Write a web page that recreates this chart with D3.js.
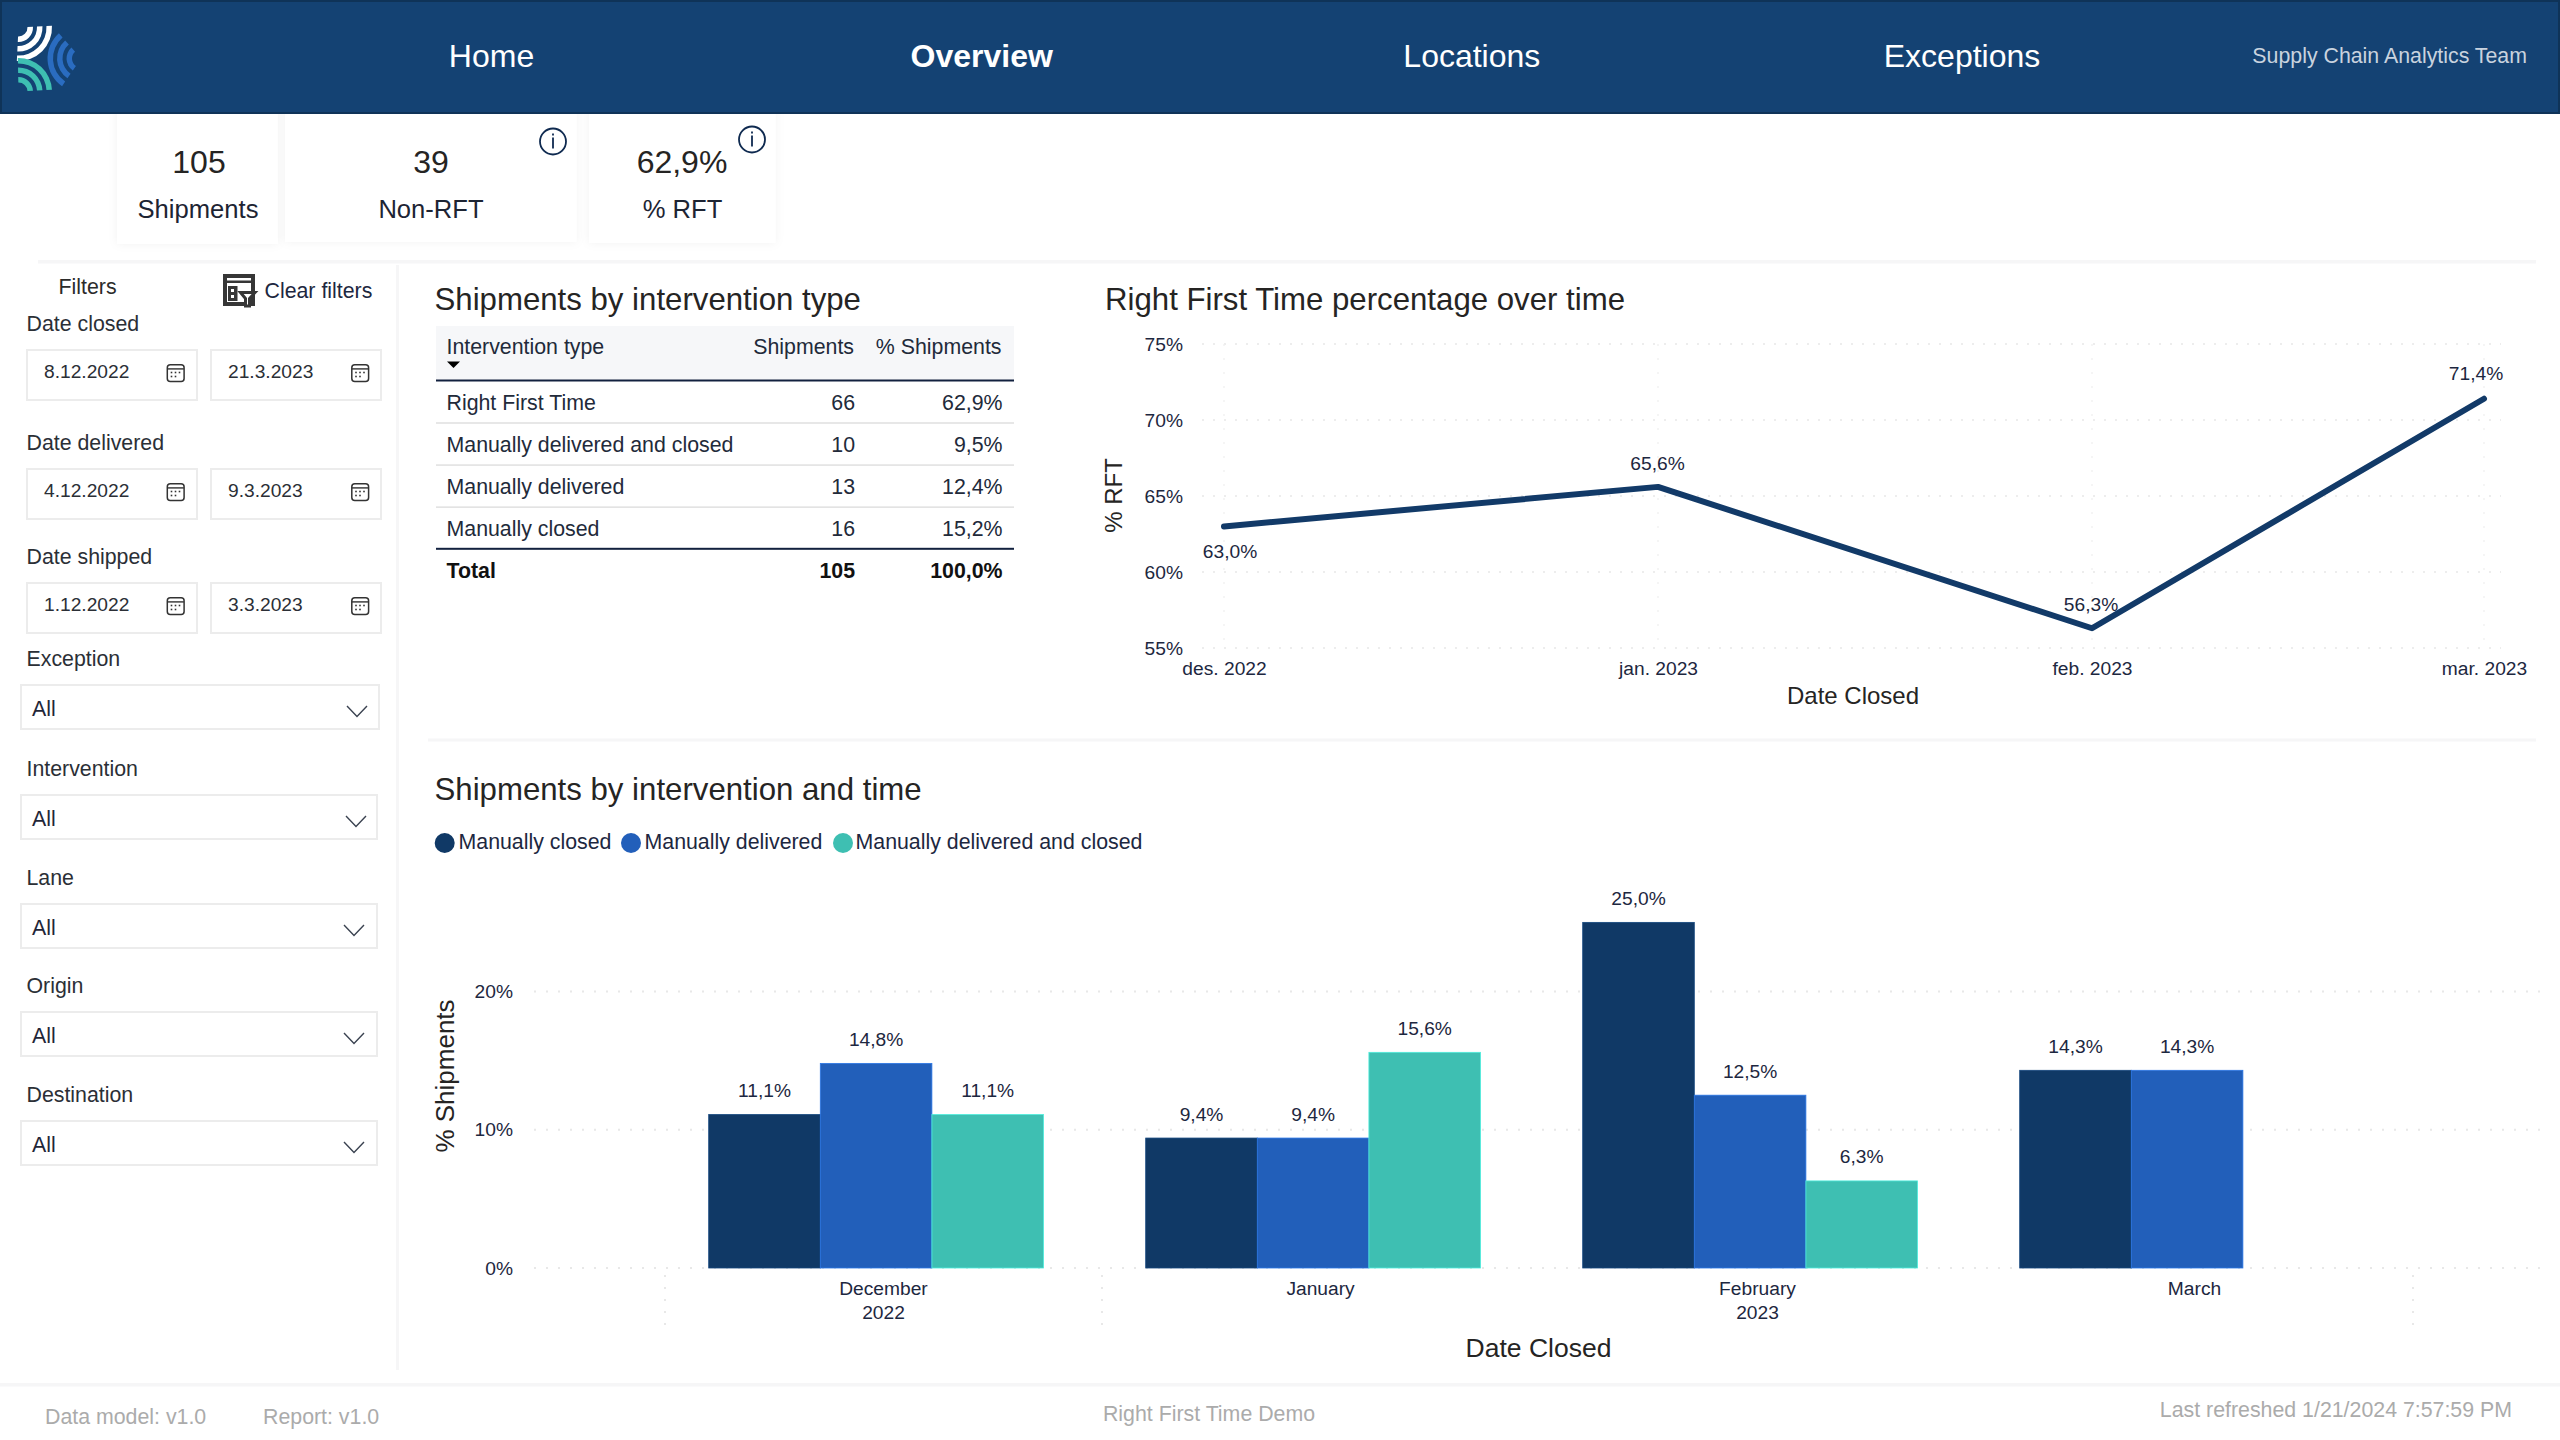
<!DOCTYPE html>
<html><head><meta charset="utf-8">
<style>html,body{margin:0;padding:0;background:#fff}svg{display:block}text{font-family:"Liberation Sans",Arial,sans-serif}</style>
<script src="https://cdnjs.cloudflare.com/ajax/libs/d3/7.8.5/d3.min.js"></script>
</head><body><svg id="c" width="2560" height="1440"></svg>
<script>
// ---------- data ----------
const navItems = ["Home","Overview","Locations","Exceptions"];
const teamLabel = "Supply Chain Analytics Team";
const cardValues = ["105","39","62,9%"];
const cardLabels = ["Shipments","Non-RFT","% RFT"];
const dateFilterLabels = ["Date closed","Date delivered","Date shipped"];
const dateFilterFrom = ["8.12.2022","4.12.2022","1.12.2022"];
const dateFilterTo = ["21.3.2023","9.3.2023","3.3.2023"];
const dropFilterLabels = ["Exception","Intervention","Lane","Origin","Destination"];
const tableHeader = ["Intervention type","Shipments","% Shipments"];
const tableTypes = ["Right First Time","Manually delivered and closed","Manually delivered","Manually closed"];
const tableCounts = [66,10,13,16];
const tablePct = ["62,9%","9,5%","12,4%","15,2%"];
const tableTotal = ["Total","105","100,0%"];
const lineMonths = ["2022-12-01","2023-01-01","2023-02-01","2023-03-01"];
const lineMonthLabels = ["des. 2022","jan. 2023","feb. 2023","mar. 2023"];
const rftValues = [63.0,65.6,56.3,71.4];
const rftTicks = [55,60,65,70,75];
const barMonths = ["December\n2022","January","February\n2023","March"];
const barSeries = ["Manually closed","Manually delivered","Manually delivered and closed"];
const barColors = ["#103966","#225fba","#3ebfb2"];
const closedValues = [11.1,9.4,25.0,14.3];
const deliveredValues = [14.8,9.4,12.5,14.3];
const bothValues = [11.1,15.6,6.3,null];
const barTicks = [0,10,20];
const footerLeft = ["Data model: v1.0","Report: v1.0"];
const footerMid = "Right First Time Demo";
const footerRight = "Last refreshed 1/21/2024 7:57:59 PM";

// ---------- helpers ----------
const svg = d3.select("#c");
const INK="#252423", LABEL="#1d2740", SEP="#f6f6f7", GRID="#e8e8e8", BODY=21.33;
const fmt = v => d3.format(".1f")(v).replace(".",",")+"%";
function T(x,y,s,size,o={}){
  return svg.append("text").attr("x",x).attr("y",y).attr("dy",".35em").text(s)
    .attr("font-size",size).attr("fill",o.fill||INK).attr("text-anchor",o.anchor||"start")
    .attr("font-weight",o.weight||"normal");
}
function R(x,y,w,h,fill,o={}){
  return svg.append("rect").attr("x",x).attr("y",y).attr("width",w).attr("height",h).attr("fill",fill)
    .attr("stroke",o.stroke||"none").attr("stroke-width",o.sw||0);
}
const defs = svg.append("defs");
const f = defs.append("filter").attr("id","sh").attr("x","-15%").attr("y","-15%").attr("width","130%").attr("height","130%");
f.append("feDropShadow").attr("dx",0).attr("dy",0).attr("stdDeviation",5).attr("flood-color","#000").attr("flood-opacity",.05);

// ---------- KPI cards (under the header) ----------
const cards=[[117,105,161,139,199,198],[285,105,291.5,137,431,431],[589,105,186.5,138,682,682.5]];
cards.forEach(([x,y,w,h,cx1,cx2],i)=>{
  R(x,y,w,h,"#fff").attr("filter","url(#sh)");
  T(cx1,161.5,cardValues[i],32,{anchor:"middle"});
  T(cx2,209.5,cardLabels[i],25.6,{anchor:"middle",fill:"#1d2433"});
});
[[553,141.5],[752,139.5]].forEach(([x,y])=>{
  svg.append("ellipse").attr("cx",x).attr("cy",y).attr("rx",13).attr("ry",13).attr("fill","#fff").attr("stroke","#0f2a50").attr("stroke-width",1.8);
  R(x-.9,y-4,1.8,11,"#0f2a50");R(x-.9,y-8,1.8,2,"#0f2a50");
});

// ---------- header ----------
R(0,0,2560,114,"#0f3358");
R(2,2,2556,110,"#144273");
const navX = d3.scalePoint().domain(navItems).range([491.5,1962]);
navItems.forEach((n,i)=>T(navX(n),55.5,n,32,{fill:"#fff",anchor:"middle",weight:i==1?"bold":"normal"}));
T(2527,55.5,teamLabel,BODY,{fill:"#c9d3df",anchor:"end"});
const logo = svg.append("g").attr("transform","translate(1,1.5)");
const rings=[[9,14.5],[18.5,24],[28,33.5]];
[["#fff",17.5,26,Math.PI/2-.05,Math.PI+.05],["#3ebfb2",17.5,90,-.02,Math.PI/2-.05],["#2a6cc0",80,57,-Math.PI+.6,-.72]].forEach(([c,cx,cy,a0,a1])=>{
  rings.forEach(([r0,r1])=>logo.append("path").attr("transform",`translate(${cx},${cy})`).attr("fill",c)
    .attr("d",d3.arc()({innerRadius:r0,outerRadius:r1,startAngle:a0,endAngle:a1})));
});

// ---------- separators ----------
R(38,260,2498,3.5,SEP);
R(396,265,3,1105,SEP);
R(428,738.5,2108,3,SEP);
R(0,1383,2560,3.5,SEP);

// ---------- filters panel ----------
T(58.5,286.5,"Filters",BODY,{fill:"#2b2b2b"});
T(264.5,290.5,"Clear filters",BODY,{fill:"#1d2740"});
const ic=svg.append("g").attr("transform","translate(223,274)");
const IC="#363636";
ic.append("rect").attr("x",2).attr("y",2).attr("width",28).attr("height",28).attr("fill","#fff").attr("stroke",IC).attr("stroke-width",4);
ic.append("rect").attr("x",3).attr("y",6.5).attr("width",26).attr("height",2.5).attr("fill",IC);
ic.append("rect").attr("x",5).attr("y",12).attr("width",9.5).attr("height",15).attr("fill",IC);
ic.append("rect").attr("x",8).attr("y",15).attr("width",3).attr("height",3).attr("fill","#fff");
ic.append("rect").attr("x",8).attr("y",21).attr("width",3).attr("height",3).attr("fill","#fff");
ic.append("path").attr("d","M17.5 18.5H32L26.5 24.5V32H22.5V24.5Z").attr("fill","#fff").attr("stroke",IC).attr("stroke-width",3);
function cal(x,y){
  const g=svg.append("g").attr("transform",`translate(${x},${y})`);
  g.append("rect").attr("x",.8).attr("y",.8).attr("width",16.8).attr("height",16.8).attr("rx",3).attr("fill","none").attr("stroke","#333").attr("stroke-width",1.5);
  g.append("rect").attr("x",1).attr("y",4.2).attr("width",16.4).attr("height",1.4).attr("fill","#333");
  [[5,8.5],[9,8.5],[13,8.5],[5,12.5],[9,12.5]].forEach(([a,b])=>g.append("rect").attr("x",a-.8).attr("y",b-.8).attr("width",1.6).attr("height",1.6).attr("fill","#333"));
}
const dateLabelY=[323.5,442.5,556.5], dateBoxY=[349,468,582];
dateFilterLabels.forEach((l,i)=>{
  T(26.5,dateLabelY[i],l,BODY,{fill:"#2b2f36"});
  [[26,dateFilterFrom[i],44,166.5],[210,dateFilterTo[i],228,351]].forEach(([x,v,tx,cx])=>{
    R(x+1,dateBoxY[i]+1,170,50,"#fff",{stroke:"#ececec",sw:2});
    T(tx,dateBoxY[i]+22.5,v,19.2,{fill:"#2b2f36"});
    cal(cx,dateBoxY[i]+15);
  });
});
const dropLabelY=[658.7,768.7,878,986,1094.7], dropBoxY=[684,794,903,1011,1120], dropBoxR=[380,378,378,378,378], chevX=[357,356,354,354,354];
dropFilterLabels.forEach((l,i)=>{
  T(26.5,dropLabelY[i],l,BODY,{fill:"#2b2f36"});
  R(21,dropBoxY[i]+1,dropBoxR[i]-22,44,"#fff",{stroke:"#ececec",sw:2});
  T(32,dropBoxY[i]+24.7,"All",BODY,{fill:"#1f2638"});
  const cx=chevX[i], b=dropBoxY[i];
  svg.append("path").attr("d",`M${cx-10} ${b+22}L${cx} ${b+32.5}L${cx+10} ${b+22}`).attr("fill","none").attr("stroke","#3a4250").attr("stroke-width",1.4);
});

// ---------- table ----------
T(434.5,299.5,"Shipments by intervention type",31.2);
R(436,326,578,54,"#f6f7f9");
T(446.5,347,tableHeader[0],BODY,{fill:"#222a3a"});
T(854,347,tableHeader[1],BODY,{fill:"#222a3a",anchor:"end"});
T(1001.5,347,tableHeader[2],BODY,{fill:"#222a3a",anchor:"end"});
svg.append("path").attr("d","M447 361.5H460L453.5 368Z").attr("fill","#000");
R(436,379.5,578,2,"#12213f");
const rowY=d3.scalePoint().domain(d3.range(5)).range([402.7,571]);
tableTypes.forEach((t,i)=>{
  T(446.5,rowY(i),t,BODY,{fill:"#222a3a"});
  T(855,rowY(i),tableCounts[i],BODY,{fill:"#222a3a",anchor:"end"});
  T(1002.5,rowY(i),tablePct[i],BODY,{fill:"#222a3a",anchor:"end"});
  if(i<3) R(436,rowY(i)+19.5,578,1.6,"#e2e2e2");
});
R(436,547.8,578,2,"#12213f");
T(446.5,rowY(4),tableTotal[0],BODY,{weight:"bold",fill:"#111"});
T(855,rowY(4),tableTotal[1],BODY,{weight:"bold",fill:"#111",anchor:"end"});
T(1002.5,rowY(4),tableTotal[2],BODY,{weight:"bold",fill:"#111",anchor:"end"});

// ---------- line chart ----------
T(1105,299,"Right First Time percentage over time",31.2);
const parse=d3.utcParse("%Y-%m-%d");
const lineDates=lineMonths.map(parse);
const lx=d3.scaleUtc().domain([lineDates[0],lineDates[3]]).range([1224,2484]);
const ly=d3.scaleLinear().domain([55,75]).range([648,344]);
const lg=svg.append("g");
rftTicks.forEach(t=>lg.append("line").attr("x1",1202).attr("x2",2501).attr("y1",ly(t)).attr("y2",ly(t)).attr("stroke",GRID).attr("stroke-width",1.5).attr("stroke-dasharray","2 9"));
lineDates.forEach(d=>lg.append("line").attr("x1",lx(d)).attr("x2",lx(d)).attr("y1",344).attr("y2",648).attr("stroke","#eeeeee").attr("stroke-width",1.2).attr("stroke-dasharray","2 12"));
const ya=svg.append("g").attr("transform","translate(1183,0)").call(d3.axisLeft(ly).tickValues(rftTicks).tickSize(0).tickPadding(0).tickFormat(d=>d+"%"));
ya.select(".domain").remove();
ya.selectAll("text").attr("font-size",19.2).attr("fill",LABEL).attr("font-family",null);
const xa=svg.append("g").attr("transform","translate(0,668.5)").call(d3.axisBottom(lx).tickValues(lineDates).tickSize(0).tickPadding(0).tickFormat((d,i)=>lineMonthLabels[i]));
xa.select(".domain").remove();
xa.selectAll("text").attr("font-size",19.2).attr("fill",LABEL).attr("font-family",null).attr("dy",".35em").attr("y",0);
svg.append("path").datum(rftValues).attr("fill","none").attr("stroke","#123a68").attr("stroke-width",6).attr("stroke-linejoin","round").attr("stroke-linecap","round")
  .attr("d",d3.line().x((d,i)=>lx(lineDates[i])).y(d=>ly(d)));
const lblOff=[[6,25],[-0.5,-24],[-1,-24],[-8,-25]];
rftValues.forEach((v,i)=>T(lx(lineDates[i])+lblOff[i][0],ly(v)+lblOff[i][1],fmt(v),19.2,{fill:LABEL,anchor:"middle"}));
svg.append("text").attr("transform","translate(1113.5,495.5) rotate(-90)").attr("dy",".35em").attr("text-anchor","middle").attr("font-size",24).attr("fill",INK).text("% RFT");
T(1853,695.5,"Date Closed",24,{anchor:"middle"});

// ---------- grouped bars ----------
T(434.5,789,"Shipments by intervention and time",31.2);
const legendX=[444.7,631,843], legendTX=[458.5,644.5,855.5];
barSeries.forEach((s,i)=>{
  svg.append("circle").attr("cx",legendX[i]).attr("cy",843).attr("r",10).attr("fill",barColors[i]);
  T(legendTX[i],842,s,BODY,{fill:LABEL});
});
const by=d3.scaleLinear().domain([0,20]).range([1268,991.5]);
const bx=d3.scaleBand().domain(barMonths).range([665,2413]);
const bx1=d3.scaleBand().domain(barSeries).range([43.7,378.5]);
barTicks.forEach(t=>svg.append("line").attr("x1",534).attr("x2",2541).attr("y1",by(t)).attr("y2",by(t)).attr("stroke",GRID).attr("stroke-width",2).attr("stroke-dasharray","2 10"));
[bx(barMonths[0]),bx(barMonths[1]),bx(barMonths[3])+bx.bandwidth()].forEach(x=>svg.append("line").attr("x1",x).attr("x2",x).attr("y1",1275).attr("y2",1326).attr("stroke",GRID).attr("stroke-width",2).attr("stroke-dasharray","2 10"));
const seriesVals=[closedValues,deliveredValues,bothValues];
barSeries.forEach((s,si)=>{
  const pts=seriesVals[si].map((v,i)=>({v,m:barMonths[i]})).filter(d=>d.v!=null);
  svg.append("g").selectAll("rect").data(pts).join("rect")
    .attr("x",d=>bx(d.m)+bx1(s)).attr("y",d=>by(d.v)).attr("width",bx1.bandwidth()).attr("height",d=>by(0)-by(d.v))
    .attr("fill",barColors[si]).attr("stroke",d3.color(barColors[si]).brighter(.6)).attr("stroke-width",.8);
  svg.append("g").selectAll("text").data(pts).join("text")
    .attr("x",d=>bx(d.m)+bx1(s)+bx1.bandwidth()/2).attr("y",d=>by(d.v)-24.2).attr("dy",".35em")
    .attr("text-anchor","middle").attr("font-size",19.2).attr("fill",LABEL).text(d=>fmt(d.v));
});
const bya=svg.append("g").attr("transform","translate(513,0)").call(d3.axisLeft(by).tickValues(barTicks).tickSize(0).tickPadding(0).tickFormat(d=>d+"%"));
bya.select(".domain").remove();
bya.selectAll("text").attr("font-size",19.2).attr("fill",LABEL).attr("font-family",null);
const bxa=svg.append("g").attr("transform","translate(0,1288)").call(d3.axisBottom(bx).tickSize(0).tickPadding(0).tickFormat(""));
bxa.select(".domain").remove();
bxa.selectAll(".tick").each(function(m){
  const g=d3.select(this);g.select("text").remove();
  m.split("\n").forEach((p,i)=>g.append("text").attr("y",i*24).attr("dy",".35em").attr("text-anchor","middle").attr("font-size",19.2).attr("fill",LABEL).text(p));
});
svg.append("text").attr("transform","translate(444.5,1076) rotate(-90)").attr("dy",".35em").attr("text-anchor","middle").attr("font-size",26).attr("fill",INK).text("% Shipments");
T(1538.5,1348,"Date Closed",26.5,{anchor:"middle"});

// ---------- footer ----------
const FOOT="#ababab";
T(45,1416.5,footerLeft[0],BODY,{fill:FOOT});
T(263,1416.5,footerLeft[1],BODY,{fill:FOOT});
T(1209,1414,footerMid,BODY,{fill:FOOT,anchor:"middle"});
T(2512,1410,footerRight,BODY,{fill:FOOT,anchor:"end"});
</script></body></html>
